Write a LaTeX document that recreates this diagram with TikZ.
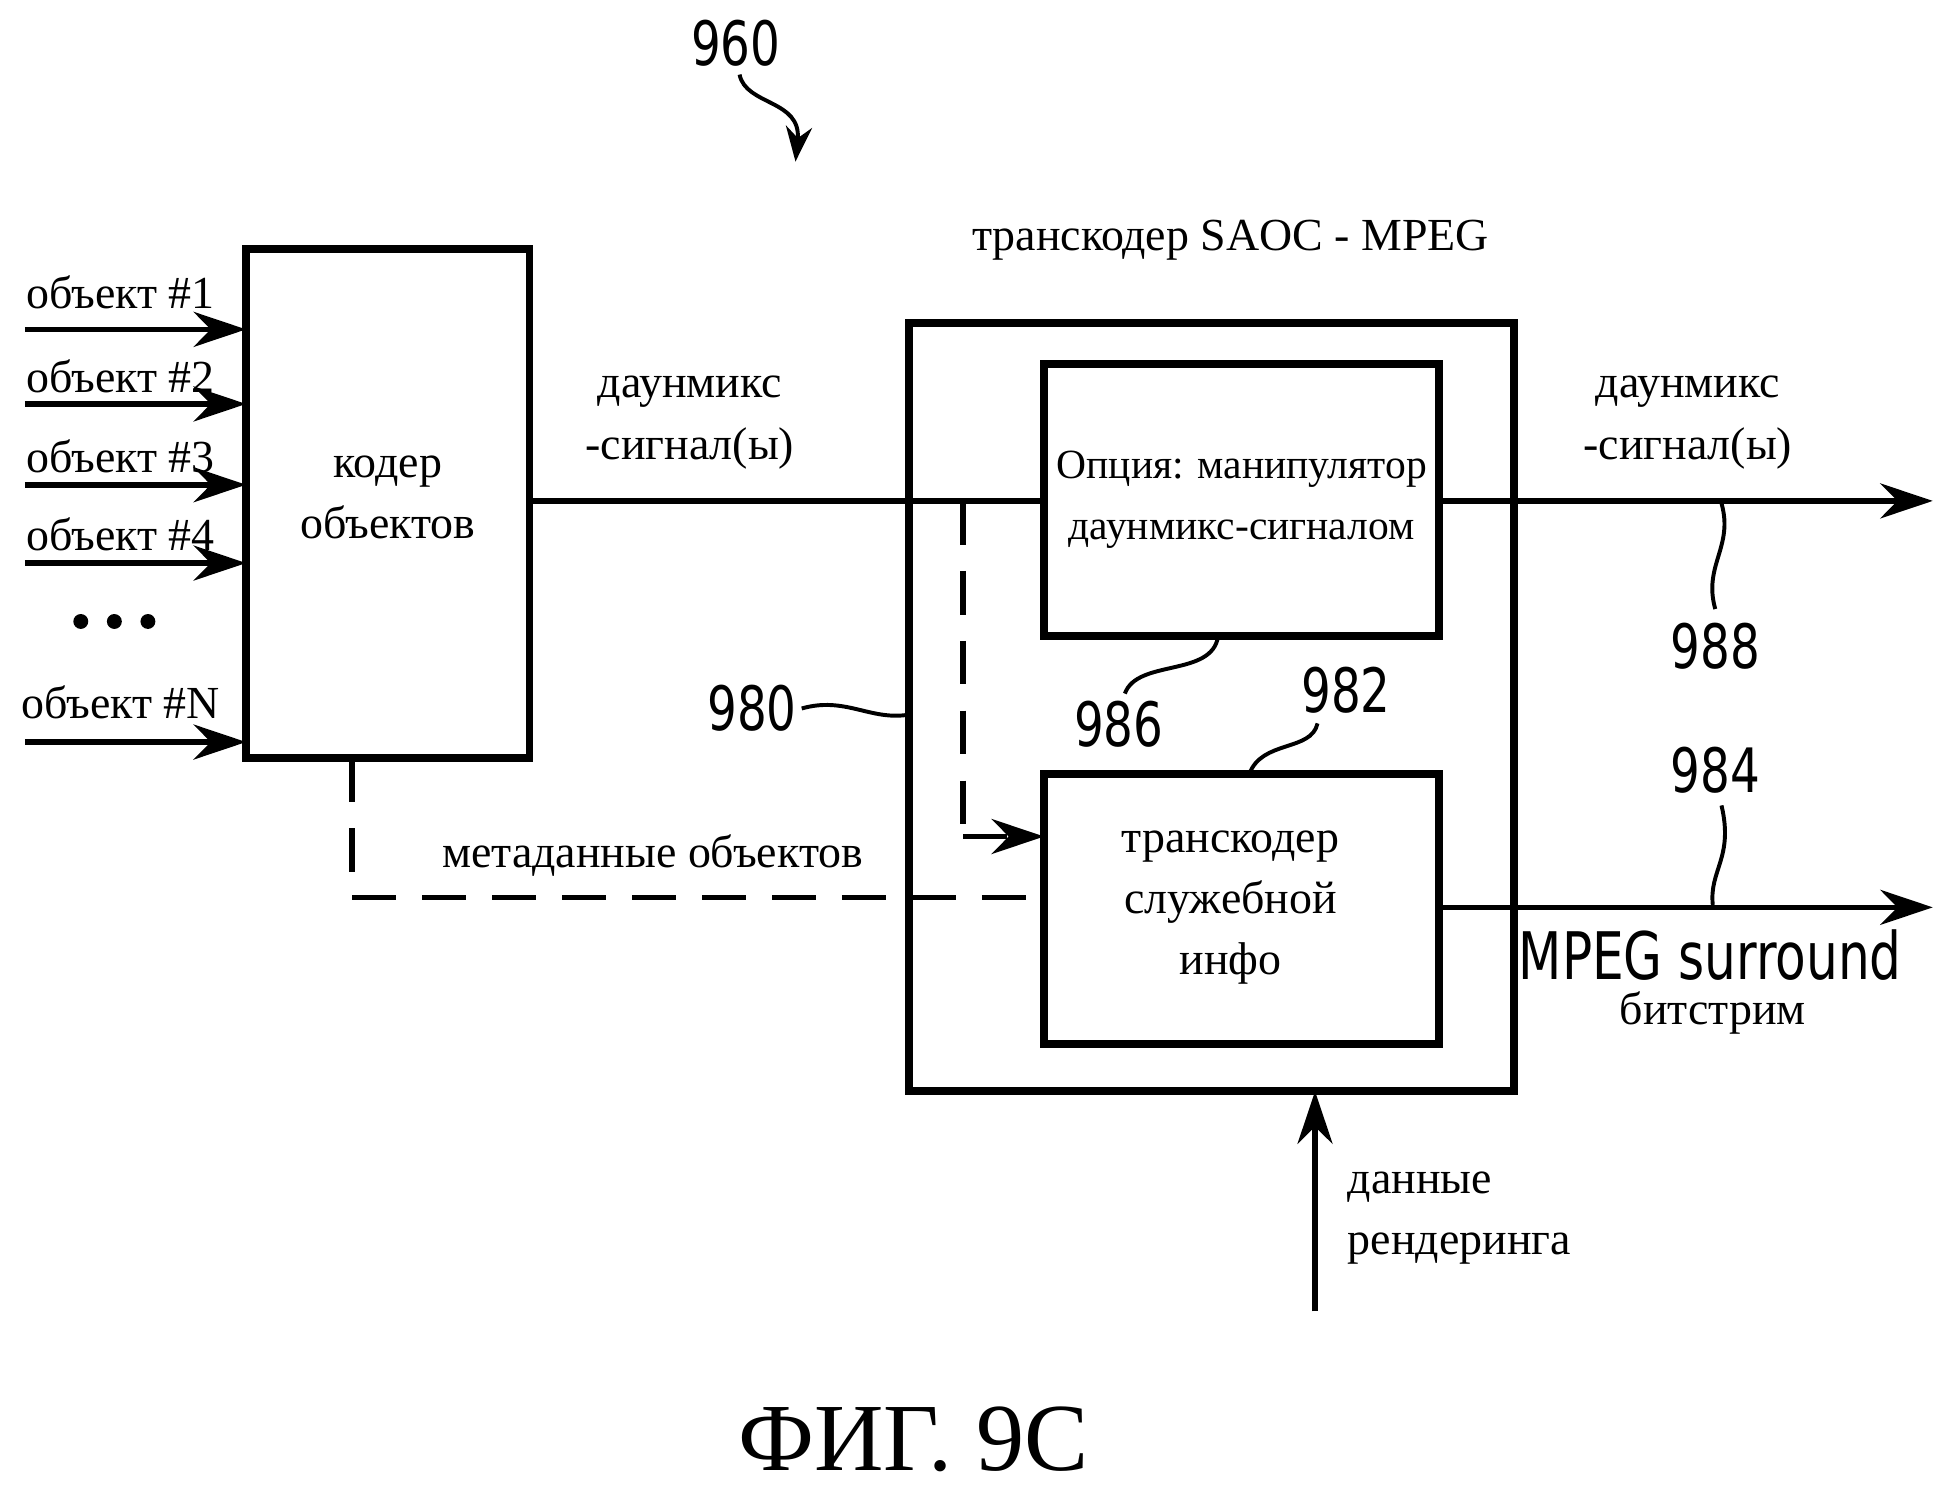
\documentclass[tikz,border=0pt]{standalone}
\usepackage{fontspec}
\setmainfont{Liberation Serif}
\newfontfamily\numf{DejaVu Sans Condensed}
\usetikzlibrary{arrows.meta}
\begin{document}
\begin{tikzpicture}[x=0.01cm,y=-0.01cm,
  box/.style={draw,line width=1.8pt},
  ln/.style={line width=1.3pt},
  arr/.style={ln,-{Stealth[length=12pt,width=8pt]}},
  dsh/.style={ln,dash pattern=on 10pt off 6pt},
  txt/.style={font=\fontsize{10.5pt}{14pt}\selectfont,align=center},
  num/.style={font=\numf\fontsize{14pt}{16pt}\selectfont,xscale=0.85},
  sq/.style={line width=0.9pt}]
\useasboundingbox (0,0) rectangle (1560,1197);
\node[num] (n960) at (592,35) {960};
\coordinate (a960) at (640,130);
\draw[sq,-{Stealth[length=8pt]}] (595,60) .. controls (600,85) and (645,80) .. (a960);
\draw[box] (198,200) rectangle (426,610);
\node[txt] (enc) at (312,400) {кодер\\объектов};
\foreach \y/\t/\ly in {265/1/235,325/2/303,390/3/367,453/4/430,597/N/565}{
  \coordinate (s\t) at (20,\y); \coordinate (e\t) at (198,\y);
  \draw[arr] (s\t) -- (e\t);
  \node[txt] at (97,\ly) {объект \#\t};}
\foreach \x in {65,92,119} \fill (\x,500) circle (6);
\draw[box] (731,260) rectangle (1218,878);
\node[txt] at (990,193) {транскодер SAOC - MPEG};
\draw[box] (840,293) rectangle (1158,512);
\node[txt,font=\fontsize{9.5pt}{14pt}\selectfont] at (999,402) {Опция: манипулятор\\даунмикс-сигналом};
\draw[box] (840,623) rectangle (1158,840);
\node[txt] at (990,730) {транскодер\\служебной\\инфо};
\draw[ln] (426,403) -- (840,403);
\node[txt] at (555,340) {даунмикс\\-сигнал(ы)};
\draw[arr] (1158,403) -- (1555,403);
\node[txt] at (1358,340) {даунмикс\\-сигнал(ы)};
\draw[arr] (1158,730) -- (1555,730);
\node[font=\numf\fontsize{15pt}{16pt}\selectfont,xscale=0.85] at (1376,768) {MPEG surround};
\node[txt] at (1378,815) {битстрим};
\draw[dsh] (775,403) -- (775,673);
\draw[dsh,-{Stealth[length=12pt,width=8pt]}] (775,673) -- (840,673);
\draw[dsh] (283,610) -- (283,722) -- (840,722);
\node[txt] at (525,688) {метаданные объектов};
\draw[arr] (1058,1055) -- (1058,878);
\node[txt,align=left,anchor=west] at (1072,980) {данные\\рендеринга};
\node[num] at (605,570) {980};
\draw[sq] (645,570) .. controls (680,560) and (700,580) .. (731,575);
\node[num] at (900,583) {986};
\draw[sq] (905,558) .. controls (915,530) and (975,545) .. (980,512);
\node[num] at (1083,555) {982};
\draw[sq] (1005,623) .. controls (1015,595) and (1055,605) .. (1060,582);
\node[num] at (1380,520) {988};
\draw[sq] (1385,405) .. controls (1395,440) and (1370,455) .. (1380,490);
\node[num] at (1380,620) {984};
\draw[sq] (1385,648) .. controls (1395,690) and (1375,700) .. (1378,728);
\node[font=\fontsize{22pt}{24pt}\selectfont] at (735,1158) {ФИГ. 9C};
\end{tikzpicture}
\end{document}
